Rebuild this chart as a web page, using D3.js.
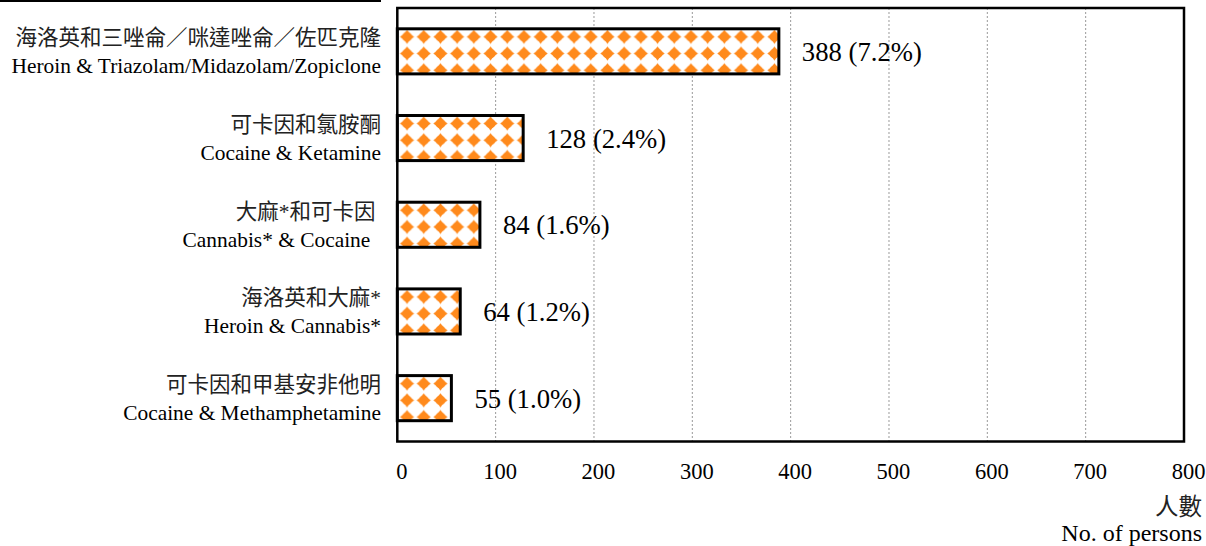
<!DOCTYPE html>
<html><head><meta charset="utf-8">
<script src="https://cdn.jsdelivr.net/npm/d3@7/dist/d3.min.js"></script>
<style>
html,body{margin:0;padding:0;background:#fff;}
svg text{white-space:pre;}
</style></head>
<body><svg id="chart" width="1206" height="546"></svg>
<script>
const categoriesZh = ["海洛英和三唑侖／咪達唑侖／佐匹克隆","可卡因和氯胺酮","大麻*和可卡因 ","海洛英和大麻*","可卡因和甲基安非他明"];
const categoriesEn = ["Heroin & Triazolam/Midazolam/Zopiclone","Cocaine & Ketamine","Cannabis* & Cocaine  ","Heroin & Cannabis*","Cocaine & Methamphetamine"];
const values = [388,128,84,64,55];
const percents = ["7.2%","2.4%","1.6%","1.2%","1.0%"];
const xTicks = [0,100,200,300,400,500,600,700,800];
const axisTitleZh = "人數";
const axisTitleEn = "No. of persons";

const svg = d3.select("#chart");
const serif = "'Liberation Serif','Times New Roman',serif";
const cjk = "'Liberation Serif','Noto Sans CJK TC',serif";
const L = 397.3, R = 1184, T = 8, B = 441.5;

const x = d3.scaleLinear().domain([0,800]).range([L,R]);
const y = d3.scaleBand().domain(d3.range(values.length)).range([T,B]).paddingInner(0.48).paddingOuter(0.24);

// top-left stray rule
svg.append("line").attr("x1",0).attr("x2",381).attr("y1",1).attr("y2",1).attr("stroke","#000").attr("stroke-width",2);

// patterns
const defs = svg.append("defs");
const P = 16.7;
values.forEach((v,i)=>{
  const p = defs.append("pattern").attr("id","pat"+i).attr("patternUnits","userSpaceOnUse")
    .attr("width",P).attr("height",P).attr("x",x(0)+1.4).attr("y",y(i)-0.3);
  p.append("rect").attr("width",P).attr("height",P).attr("fill","#fff");
  const c = P/2, r = 7.1, k = 2.5;
  p.append("path").attr("fill","#FF8A1C")
    .attr("d",`M${c},${c-r} Q${c+k},${c-k} ${c+r},${c} Q${c+k},${c+k} ${c},${c+r} Q${c-k},${c+k} ${c-r},${c} Q${c-k},${c-k} ${c},${c-r} Z`);
  p.append("circle").attr("cx",c).attr("cy",c).attr("r",4.9).attr("fill","#FF8A1C");
});

// gridlines
svg.append("g").selectAll("line").data(xTicks.slice(1,-1)).join("line")
  .attr("x1",d=>x(d)).attr("x2",d=>x(d)).attr("y1",T).attr("y2",B)
  .attr("stroke","#9a9a9a").attr("stroke-width",1).attr("stroke-dasharray","2,2");

// bars
svg.append("g").selectAll("rect").data(values).join("rect")
  .attr("x",x(0)).attr("y",(d,i)=>y(i)).attr("width",d=>x(d)-x(0)).attr("height",y.bandwidth())
  .attr("fill",(d,i)=>`url(#pat${i})`).attr("stroke","#000").attr("stroke-width",3);

// frame
svg.append("rect").attr("x",L).attr("y",T).attr("width",R-L).attr("height",B-T)
  .attr("fill","none").attr("stroke","#000").attr("stroke-width",2.5);

// value labels
svg.append("g").selectAll("text").data(values).join("text")
  .attr("x",d=>x(d)+23).attr("y",(d,i)=>y(i)+y.bandwidth()/2+9.5)
  .attr("font-family",serif).attr("font-size",26.7).attr("fill","#000")
  .text((d,i)=>`${d} (${percents[i]})`);

// category labels
const cg = svg.append("g").attr("text-anchor","end");
cg.selectAll("text.zh").data(categoriesZh).join("text").attr("class","zh")
  .attr("x",381).attr("y",(d,i)=>y(i)+y.bandwidth()/2-6)
  .attr("font-family",cjk).attr("font-size",21.5).attr("fill","#222").text(d=>d);
cg.selectAll("text.en").data(categoriesEn).join("text").attr("class","en")
  .attr("x",381).attr("y",(d,i)=>y(i)+y.bandwidth()/2+22)
  .attr("font-family",serif).attr("font-size",21.4).attr("fill","#000").text(d=>d);

// x axis
const ax = svg.append("g").attr("transform",`translate(0,${B})`)
  .call(d3.axisBottom(x).tickValues(xTicks).tickSize(0).tickPadding(0).tickFormat(d3.format("d")));
ax.select(".domain").remove();
ax.selectAll("text").attr("font-family",serif).attr("font-size",22.5).attr("fill","#000")
  .attr("dy",null).attr("y",37).attr("dx",4);

// axis title
svg.append("text").attr("x",1202).attr("y",515).attr("text-anchor","end")
  .attr("font-family",cjk).attr("font-size",23.5).attr("fill","#222").text(axisTitleZh);
svg.append("text").attr("x",1202).attr("y",541).attr("text-anchor","end")
  .attr("font-family",serif).attr("font-size",24).attr("fill","#000").text(axisTitleEn);
</script></body></html>
